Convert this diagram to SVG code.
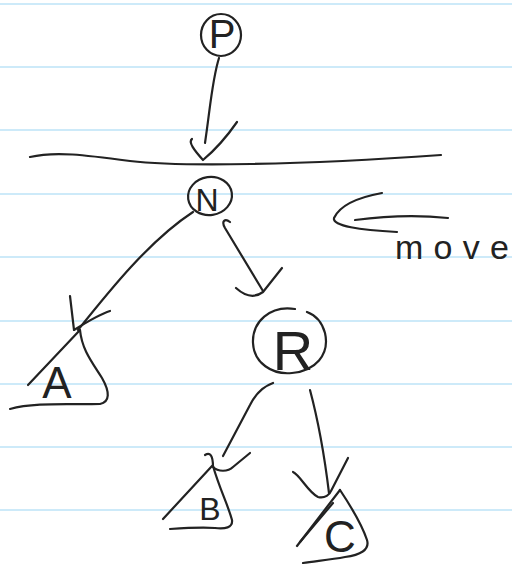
<svg xmlns="http://www.w3.org/2000/svg" width="512" height="566" viewBox="0 0 512 566">
<style>
.rule{stroke:#cdeaf9;stroke-width:2;fill:none}
.ink{stroke:#222;stroke-width:2.2;fill:none;stroke-linecap:round;stroke-linejoin:round}
.lbl{font-family:"Liberation Sans",Arial,sans-serif;fill:#222;text-anchor:middle}
</style>
<rect width="512" height="566" fill="#fff"/>
<g id="paper">
<line class="rule" x1="0" y1="4" x2="512" y2="4"/>
<line class="rule" x1="0" y1="67" x2="512" y2="67"/>
<line class="rule" x1="0" y1="130" x2="512" y2="130"/>
<line class="rule" x1="0" y1="194" x2="512" y2="194"/>
<line class="rule" x1="0" y1="257" x2="512" y2="257"/>
<line class="rule" x1="0" y1="321" x2="512" y2="321"/>
<line class="rule" x1="0" y1="384" x2="512" y2="384"/>
<line class="rule" x1="0" y1="447" x2="512" y2="447"/>
<line class="rule" x1="0" y1="510" x2="512" y2="510"/>
</g>
<g id="divider">
<path class="ink" d="M30,157 C55,151 85,155 130,161 C180,167 300,165 441,155"/>
</g>
<g id="node-P">
<ellipse class="ink" cx="221" cy="35" rx="20" ry="21"/>
<text class="lbl" x="222" y="48" font-size="40">P</text>
</g>
<g id="node-N">
<ellipse class="ink" cx="210" cy="196" rx="22" ry="19" transform="rotate(-8 210 196)"/>
<text class="lbl" x="207" y="211" font-size="32">N</text>
</g>
<g id="node-R">
<path class="ink" d="M295,309 C270,305 252,322 253,343 C254,363 272,375 292,373 C315,371 330,355 325,333 C322,322 315,315 307,312"/>
<text class="lbl" x="293" y="370" font-size="56">R</text>
</g>
<g id="subtree-A">
<path class="ink" d="M80,330 C82,350 92,362 102,378 C110,392 110,402 100,404 C70,405 35,402 10,409"/>
<path class="ink" d="M80,330 L28,385"/>
<text class="lbl" x="57" y="398" font-size="44">A</text>
</g>
<g id="subtree-B">
<path class="ink" d="M213,466 C220,490 228,505 232,520 C233,528 225,529 215,528 C200,527 185,528 170,529"/>
<path class="ink" d="M212,466 L163,519"/>
<text class="lbl" x="210" y="520" font-size="32">B</text>
</g>
<g id="subtree-C">
<path class="ink" d="M340,490 C350,505 362,525 367,540 C370,550 360,555 345,557 C330,560 315,561 303,563"/>
<path class="ink" d="M340,490 L297,546"/>
<path class="ink" d="M333,503 L300,542"/>
<text class="lbl" x="340" y="552" font-size="44">C</text>
</g>
<g id="label-move">
<path class="ink" d="M382,193 C360,197 340,205 334,218 C332,226 360,230 397,232"/>
<path class="ink" d="M355,220 C385,216 420,215 448,218"/>
<text class="lbl" x="452" y="259" font-size="34" textLength="114" lengthAdjust="spacing">move</text>
</g>
<g id="connectors">
<path class="ink" d="M219,58 C212,80 210,110 205,143"/>
<path class="ink" d="M192,139 C188,142 194,150 203,160 C215,150 228,135 237,122"/>
<path class="ink" d="M193,212 C150,240 110,290 78,330"/>
<path class="ink" d="M70,296 L74,330 C90,320 100,314 110,311"/>
<path class="ink" d="M230,222 C225,218 221,221 225,228 L263,291"/>
<path class="ink" d="M236,288 C246,297 255,298 263,292 L282,268"/>
<path class="ink" d="M273,383 C262,387 255,395 250,405 L223,456"/>
<path class="ink" d="M205,455 C210,452 213,455 213,467 C218,472 228,472 233,467 L250,453"/>
<path class="ink" d="M310,390 C318,420 325,460 329,493"/>
<path class="ink" d="M293,472 C300,475 308,492 318,497 C325,499 330,494 331,491 L348,458"/>
</g>
</svg>
